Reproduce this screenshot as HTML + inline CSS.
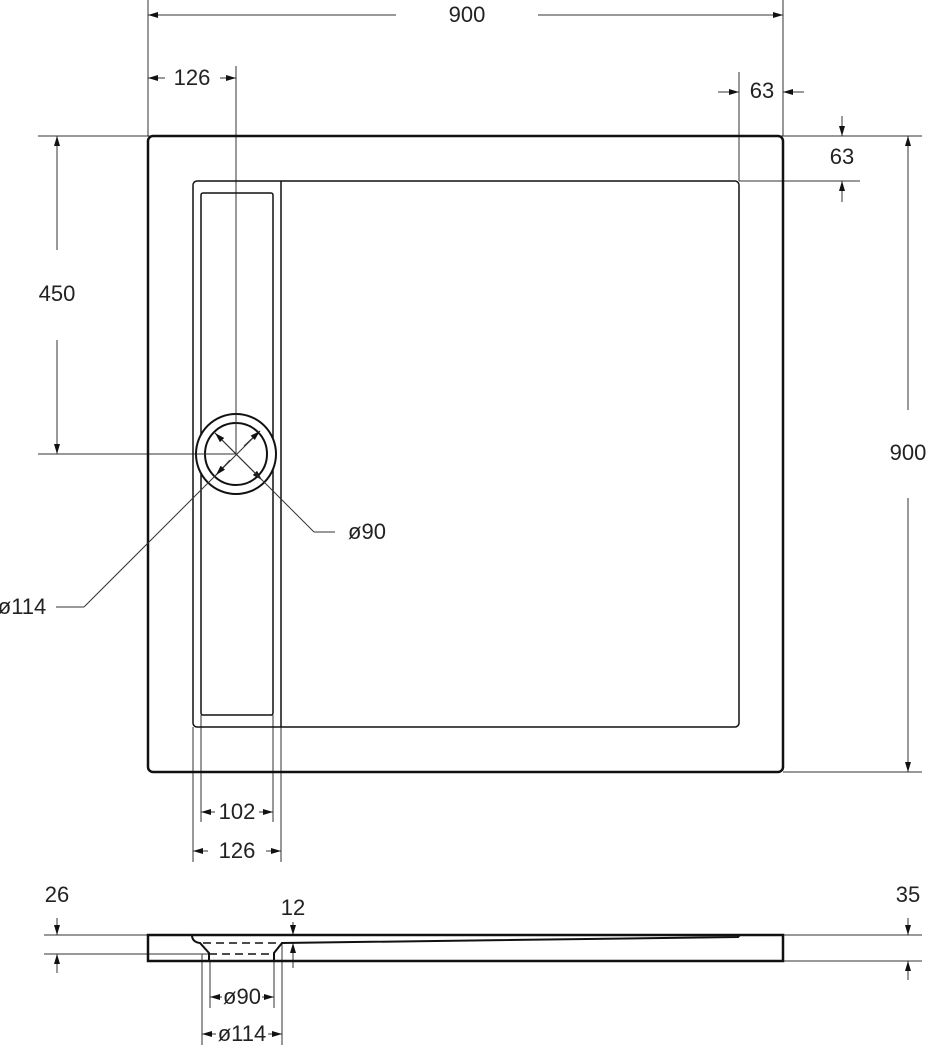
<!DOCTYPE html>
<html><head><style>body{margin:0;background:#fff}svg{display:block}text{font-family:"Liberation Sans",sans-serif;font-size:22px;fill:#222}</style></head><body>
<svg width="929" height="1048" viewBox="0 0 929 1048" xmlns="http://www.w3.org/2000/svg">
<defs><marker id="a" markerWidth="10" markerHeight="6" refX="10" refY="3" orient="auto" markerUnits="userSpaceOnUse"><path d="M0,0L10,3L0,6z" fill="#111"/></marker></defs>
<g stroke="#333" stroke-width="1" fill="none">
<line x1="148" y1="0" x2="148" y2="136"/><line x1="783" y1="0" x2="783" y2="136"/>
<line x1="236" y1="66" x2="236" y2="414"/><line x1="739" y1="72" x2="739" y2="181"/>
<line x1="38" y1="136" x2="922" y2="136"/><line x1="739" y1="181" x2="860" y2="181"/>
<line x1="38" y1="454" x2="196" y2="454"/><line x1="783" y1="772" x2="922" y2="772"/>
<line x1="193" y1="727" x2="193" y2="862"/><line x1="281" y1="727" x2="281" y2="862"/>
<line x1="201" y1="715" x2="201" y2="822"/><line x1="273" y1="715" x2="273" y2="822"/>
<line x1="396" y1="15" x2="148" y2="15" marker-end="url(#a)"/><line x1="538" y1="15" x2="783" y2="15" marker-end="url(#a)"/>
<line x1="165" y1="78" x2="148" y2="78" marker-end="url(#a)"/><line x1="220" y1="78" x2="236" y2="78" marker-end="url(#a)"/>
<line x1="718" y1="92" x2="739" y2="92" marker-end="url(#a)"/><line x1="804" y1="92" x2="783" y2="92" marker-end="url(#a)"/>
<line x1="842" y1="116" x2="842" y2="136" marker-end="url(#a)"/><line x1="842" y1="202" x2="842" y2="181" marker-end="url(#a)"/>
<line x1="57" y1="250" x2="57" y2="136" marker-end="url(#a)"/><line x1="57" y1="340" x2="57" y2="454" marker-end="url(#a)"/>
<line x1="908" y1="410" x2="908" y2="136" marker-end="url(#a)"/><line x1="908" y1="498" x2="908" y2="772" marker-end="url(#a)"/>
<line x1="215" y1="812" x2="201" y2="812" marker-end="url(#a)"/><line x1="259" y1="812" x2="273" y2="812" marker-end="url(#a)"/>
<line x1="208" y1="851" x2="193" y2="851" marker-end="url(#a)"/><line x1="266" y1="851" x2="281" y2="851" marker-end="url(#a)"/>
<line x1="44" y1="935" x2="922" y2="935"/><line x1="44" y1="954" x2="210" y2="954"/><line x1="783" y1="961" x2="922" y2="961"/>
<line x1="57" y1="918" x2="57" y2="935" marker-end="url(#a)"/><line x1="57" y1="973" x2="57" y2="954" marker-end="url(#a)"/>
<line x1="908" y1="918" x2="908" y2="935" marker-end="url(#a)"/><line x1="908" y1="980" x2="908" y2="961" marker-end="url(#a)"/>
<line x1="293" y1="922" x2="293" y2="935" marker-end="url(#a)"/><line x1="293" y1="968" x2="293" y2="943" marker-end="url(#a)"/>
<line x1="210" y1="961" x2="210" y2="1008"/><line x1="274" y1="961" x2="274" y2="1008"/>
<line x1="202" y1="954" x2="202" y2="1045"/><line x1="282" y1="943" x2="282" y2="1045"/>
<line x1="222" y1="997" x2="210" y2="997" marker-end="url(#a)"/><line x1="262" y1="997" x2="274" y2="997" marker-end="url(#a)"/>
<line x1="216" y1="1034" x2="202" y2="1034" marker-end="url(#a)"/><line x1="268" y1="1034" x2="282" y2="1034" marker-end="url(#a)"/>
</g>
<g stroke="#111" fill="none">
<rect x="148" y="136" width="635" height="636" rx="5" stroke-width="2.5"/>
<rect x="193" y="181" width="546" height="546" rx="4" stroke-width="1.5"/>
<line x1="281" y1="181" x2="281" y2="727" stroke-width="1.5"/>
<rect x="201" y="193" width="72" height="522" rx="2" stroke-width="1.5"/>
<circle cx="236" cy="454" r="40" fill="#fff" stroke-width="2"/>
<circle cx="236" cy="454" r="31" stroke-width="2"/>
<path d="M148,935H783V961H148Z" stroke-width="2.5"/>
<path d="M192,935Q192,942 200,943L209,953V961" stroke-width="2"/>
<path d="M274,961V953L282,943L738,937L740,935" stroke-width="2"/>
<path d="M203,943H282M209,954H274" stroke-width="1.5" stroke-dasharray="8,5"/>
</g>
<g stroke="#333" stroke-width="1" fill="none">
<line x1="236" y1="414" x2="236" y2="454"/>
<line x1="196" y1="454" x2="236" y2="454"/>
<line x1="215" y1="433" x2="262" y2="480" marker-end="url(#a)"/><line x1="262" y1="480" x2="215" y2="433" marker-end="url(#a)"/>
<line x1="262" y1="480" x2="314" y2="532"/><line x1="314" y1="532" x2="335" y2="532"/>
<line x1="84" y1="607" x2="260" y2="431"/>
<line x1="230" y1="460" x2="216" y2="475" marker-end="url(#a)"/><line x1="244" y1="446" x2="260" y2="431" marker-end="url(#a)"/>
<line x1="56" y1="607" x2="84" y2="607"/>
</g>
<text x="467" y="22" text-anchor="middle">900</text>
<text x="192" y="85" text-anchor="middle">126</text>
<text x="762" y="98" text-anchor="middle">63</text>
<text x="842" y="164" text-anchor="middle">63</text>
<text x="57" y="301" text-anchor="middle">450</text>
<text x="908" y="460" text-anchor="middle">900</text>
<text x="367" y="539" text-anchor="middle">ø90</text>
<text x="22" y="614" text-anchor="middle">ø114</text>
<text x="237" y="819" text-anchor="middle">102</text>
<text x="237" y="858" text-anchor="middle">126</text>
<text x="57" y="902" text-anchor="middle">26</text>
<text x="293" y="915" text-anchor="middle">12</text>
<text x="908" y="902" text-anchor="middle">35</text>
<text x="242" y="1004" text-anchor="middle">ø90</text>
<text x="242" y="1041" text-anchor="middle">ø114</text>
</svg></body></html>
